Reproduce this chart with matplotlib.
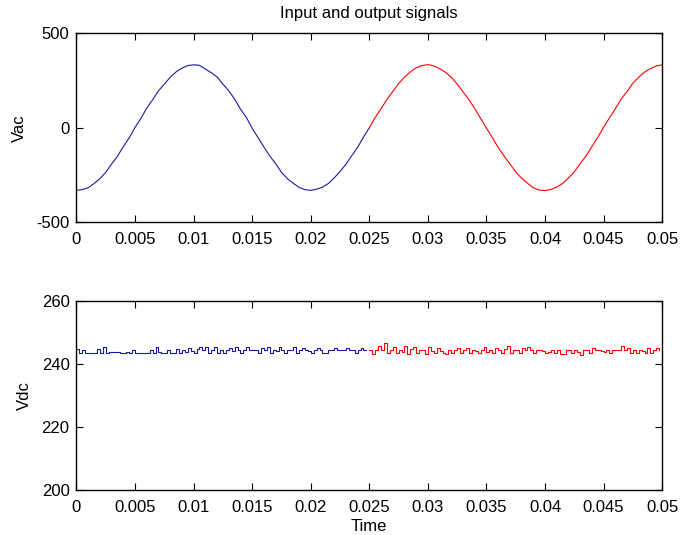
import numpy as np
import matplotlib
matplotlib.use("Agg")
import matplotlib.pyplot as plt

plt.rcParams['font.family'] = ['Liberation Sans', 'DejaVu Sans']
plt.rcParams['font.size'] = 12
plt.rcParams['axes.unicode_minus'] = False

# Vac samples, every 0.0005 s
vac_in = [-332, -328, -318, -296, -270, -236, -192, -151, -100, -54,
          2, 50, 104, 148, 196, 231, 268, 296, 316, 330,
          334, 331, 312, 292, 270, 232, 196, 152, 99, 55,
          -3, -52, -102, -150, -190, -236, -270, -294, -316, -328,
          -332, -326, -315, -296, -266, -232, -194, -148, -104, -50, 0]
vac_out = [0, 54, 100, 150, 192, 234, 268, 296, 318, 330,
           335, 328, 314, 294, 268, 232, 190, 150, 102, 50,
           -2, -52, -104, -150, -192, -234, -268, -294, -318, -330,
           -333, -328, -314, -296, -266, -234, -190, -150, -100, -52,
           3, 52, 100, 152, 192, 236, 268, 296, 314, 328, 334]

# Vdc samples, every 0.00025 s
vdc_in = [244.8, 243.4, 244.6, 243.5, 243.5, 243.6, 243.5, 244.9, 243.6, 245.3,
          243.6, 243.9, 243.9, 243.9, 243.9, 243.5, 243.5, 243.9, 243.5, 244.4,
          243.5, 243.5, 243.6, 243.6, 243.6, 244.3, 243.6, 245.3, 243.8, 243.5,
          243.5, 244.4, 243.5, 243.4, 244.8, 243.5, 244.3, 243.7, 245.0, 244.0,
          243.5, 244.8, 245.3, 244.4, 245.3, 243.5, 244.4, 245.3, 243.6, 244.5,
          243.5, 244.6, 245.2, 244.0, 245.3, 244.5, 243.6, 244.6, 245.3, 244.4,
          244.4, 244.4, 243.6, 245.0, 244.4, 245.3, 243.6, 244.6, 244.2, 245.3,
          244.4, 243.6, 244.6, 244.4, 245.3, 243.6, 244.4, 245.2, 244.3, 244.0,
          243.6, 244.4, 245.0, 244.4, 243.6, 243.6, 244.4, 244.4, 245.0, 244.5,
          244.5, 244.5, 245.1, 244.5, 244.3, 243.6, 244.5, 245.0, 244.5, 244.3]
vdc_out = [244.5, 243.2, 244.6, 245.6, 244.3, 246.8, 243.4, 244.5, 245.5, 243.4,
           244.6, 243.8, 245.6, 243.3, 244.7, 245.4, 243.6, 244.3, 244.6, 243.2,
           245.3, 244.1, 243.5, 245.2, 244.0, 243.6, 243.3, 244.5, 243.4, 244.4,
           245.0, 243.4, 244.6, 245.1, 243.5, 244.4, 244.0, 243.4, 244.3, 245.3,
           243.8, 244.5, 243.4, 245.2, 244.3, 243.5, 244.8, 245.6, 243.6, 244.6,
           244.3, 243.4, 245.2, 244.6, 245.3, 244.4, 243.6, 244.3, 244.5, 244.1,
           243.5, 243.9, 244.6, 243.4, 244.6, 243.3, 243.3, 244.5, 244.6, 243.4,
           244.4, 243.8, 242.8, 244.6, 244.4, 243.4, 245.1, 244.4, 244.6, 244.0,
           243.7, 244.6, 243.4, 244.5, 244.3, 244.6, 245.8, 244.3, 245.0, 243.4,
           244.5, 243.5, 244.6, 244.2, 243.4, 245.1, 243.5, 244.4, 245.0, 244.3]

xticks = [0, 0.005, 0.01, 0.015, 0.02, 0.025, 0.03, 0.035, 0.04, 0.045, 0.05]
xlabels = ['0', '0.005', '0.01', '0.015', '0.02', '0.025', '0.03', '0.035', '0.04', '0.045', '0.05']

blue = '#1a1aa0'
red = '#ff0000'

fig = plt.figure(figsize=(6.81, 5.35), dpi=100)
ax1 = fig.add_axes([0.1123, 0.585, 0.860, 0.3524])
ax2 = fig.add_axes([0.1123, 0.0841, 0.860, 0.3533])

t_in = np.linspace(0, 0.025, len(vac_in))
t_out = np.linspace(0.025, 0.05, len(vac_out))
ax1.plot(t_in, vac_in, color=blue, lw=0.8)
ax1.plot(t_out, vac_out, color=red, lw=0.8)
ax1.set_ylim(-500, 500)
ax1.set_yticks([-500, 0, 500])
ax1.set_ylabel('Vac', labelpad=7)
ax1.set_title('Input and output signals', fontsize=12, pad=11)

td_in = np.linspace(0, 0.025, len(vdc_in) + 1)[:-1]
td_out = np.linspace(0.025, 0.05, len(vdc_out) + 1)[:-1]
ax2.step(td_in, vdc_in, where='post', color=blue, lw=0.8)
ax2.step(td_out, vdc_out, where='post', color=red, lw=0.8)
ax2.set_ylim(200, 260)
ax2.set_yticks([200, 220, 240, 260])
ax2.set_ylabel('Vdc', labelpad=7)
ax2.set_xlabel('Time', labelpad=3)

for ax in (ax1, ax2):
    ax.set_xlim(0, 0.05)
    ax.set_xticks(xticks)
    ax.set_xticklabels(xlabels)
    ax.tick_params(direction='in', top=True, right=True, length=5, width=0.8)
    ax.tick_params(axis='x', pad=7)
    ax.tick_params(axis='y', pad=5)
    for s in ax.spines.values():
        s.set_linewidth(1.0)

fig.savefig('out.png', dpi=100)
